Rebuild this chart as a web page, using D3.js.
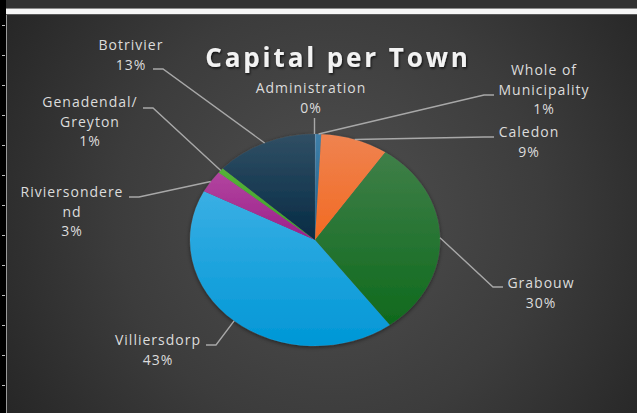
<!DOCTYPE html>
<html>
<head>
<meta charset="utf-8">
<script src="https://cdn.jsdelivr.net/npm/d3@7/dist/d3.min.js"></script>
<style>
  html, body { margin: 0; padding: 0; background: #000; }
  svg { display: block; }
</style>
</head>
<body>
<svg id="chart" width="637" height="413"></svg>
<script>
// Capital expenditure share per town
const towns = ["Administration", "Whole of Municipality", "Caledon", "Grabouw",
               "Villiersdorp", "Riviersonderend", "Genadendal/Greyton", "Botrivier"];
const shares = [0.1, 0.7, 8.7, 30.3, 42.8, 3.4, 0.8, 13.2];
const title = "Capital per Town";

// Slice fills: top and bottom gradient stops
const fillTop    = ["#6f9fc4", "#3f7fa8", "#ef8350", "#3f7f48", "#3aafe4", "#b2459f", "#55b238", "#304f64"];
const fillBottom = ["#4f86b0", "#1f5f88", "#f26a22", "#0f6a1d", "#0097d6", "#9c1f8b", "#3fa02a", "#062b45"];

// Label placement: wrapped name lines, centre x, first baseline, leader end
const labelLayout = {
  "Administration":        { lines: ["Administration"],          x: 311, y: 93,  end: [314.5, 118], side: "up" },
  "Whole of Municipality": { lines: ["Whole of", "Municipality"], x: 544, y: 75,  end: [494, 95],    side: "right" },
  "Caledon":               { lines: ["Caledon"],                 x: 529, y: 137, end: [494, 137],   side: "right" },
  "Grabouw":               { lines: ["Grabouw"],                 x: 541, y: 288, end: [503, 287],   side: "right" },
  "Villiersdorp":          { lines: ["Villiersdorp"],            x: 158, y: 345, end: [206, 345],   side: "left" },
  "Riviersonderend":       { lines: ["Riviersondere", "nd"],     x: 72,  y: 197, end: [129, 197],   side: "left" },
  "Genadendal/Greyton":    { lines: ["Genadendal/", "Greyton"],  x: 90,  y: 107, end: [143, 108],   side: "left" },
  "Botrivier":             { lines: ["Botrivier"],               x: 131, y: 50,  end: [153, 69],    side: "left" }
};

const W = 637, H = 413;
const svg = d3.select("#chart");
const defs = svg.append("defs");

// ---- frame around the chart area ----
svg.append("rect").attr("x", 0).attr("y", 0).attr("width", W).attr("height", H).attr("fill", "#000");
svg.append("rect").attr("x", 6).attr("y", 0).attr("width", W - 6).attr("height", 8).attr("fill", "#323232");
svg.append("line").attr("x1", 6).attr("x2", W).attr("y1", 8.5).attr("y2", 8.5).attr("stroke", "#8a8a8a");
svg.append("rect").attr("x", 6).attr("y", 9).attr("width", W - 6).attr("height", 5).attr("fill", "#f6f6f6");

const bg = defs.append("radialGradient").attr("id", "bg")
  .attr("gradientUnits", "userSpaceOnUse")
  .attr("cx", 330).attr("cy", 215).attr("r", 390);
bg.append("stop").attr("offset", "0").attr("stop-color", "#505050");
bg.append("stop").attr("offset", "0.55").attr("stop-color", "#3c3c3c");
bg.append("stop").attr("offset", "1").attr("stop-color", "#252525");

svg.append("rect").attr("x", 6).attr("y", 14).attr("width", W - 6).attr("height", H - 14).attr("fill", "url(#bg)");
svg.append("line").attr("x1", 6.5).attr("x2", 6.5).attr("y1", 14).attr("y2", H).attr("stroke", "#9a9a9a");
svg.append("line").attr("x1", 6).attr("x2", W).attr("y1", 14.5).attr("y2", 14.5).attr("stroke", "#5a5a5a");

// row markers on the left margin
d3.range(25, H, 30).forEach(y => {
  svg.append("line").attr("x1", 2).attr("x2", 5).attr("y1", y + 0.5).attr("y2", y + 0.5)
    .attr("stroke", "#bdbdbd").attr("stroke-width", 1);
});

// ---- title ----
const shadow = defs.append("filter").attr("id", "tshadow")
  .attr("x", "-10%").attr("y", "-30%").attr("width", "120%").attr("height", "160%");
shadow.append("feDropShadow").attr("dx", 1).attr("dy", 1.5).attr("stdDeviation", 1.2)
  .attr("flood-color", "#000").attr("flood-opacity", 0.7);

svg.append("text")
  .attr("x", 338).attr("y", 67)
  .attr("text-anchor", "middle")
  .attr("font-family", "'Open Sans', sans-serif")
  .attr("font-weight", 700)
  .attr("font-size", 26)
  .attr("letter-spacing", 2.9)
  .attr("fill", "#f2f2f2")
  .attr("filter", "url(#tshadow)")
  .text(title);

// ---- pie ----
const cx = 315, cy = 240, rx = 125, ry = 106;
const data = towns.map((t, i) => ({ town: t, value: shares[i], i }));
const total = d3.sum(shares);

const pie = d3.pie().sort(null).value(d => d.value).startAngle(0).endAngle(2 * Math.PI);
const arcs = pie(data);
const arc = d3.arc().innerRadius(0).outerRadius(ry);

arcs.forEach(a => {
  const g = defs.append("linearGradient").attr("id", "g" + a.data.i)
    .attr("x1", 0).attr("y1", 0).attr("x2", 0).attr("y2", 1);
  g.append("stop").attr("offset", "0").attr("stop-color", fillTop[a.data.i]);
  g.append("stop").attr("offset", "1").attr("stop-color", fillBottom[a.data.i]);
});

const pshadow = defs.append("filter").attr("id", "pshadow")
  .attr("x", "-10%").attr("y", "-10%").attr("width", "120%").attr("height", "120%");
pshadow.append("feDropShadow").attr("dx", 0).attr("dy", 1).attr("stdDeviation", 2)
  .attr("flood-color", "#000").attr("flood-opacity", 0.55);

const pieG = svg.append("g")
  .attr("transform", `translate(${cx},${cy}) scale(${rx / ry},1)`)
  .attr("filter", "url(#pshadow)");

pieG.selectAll("path").data(arcs).join("path")
  .attr("d", arc)
  .attr("fill", d => `url(#g${d.data.i})`)
  .attr("stroke", "rgba(255,255,255,0.08)")
  .attr("stroke-width", 0.5);

// ---- leader lines and labels ----
const fmt = v => Math.round(v / total * 100) + "%";
const edgePoint = a => {
  const m = (a.startAngle + a.endAngle) / 2;
  return [cx + rx * Math.sin(m), cy - ry * Math.cos(m)];
};

const lineGen = d3.line();
arcs.forEach(a => {
  const L = labelLayout[a.data.town];
  const p0 = edgePoint(a);
  let pts;
  if (L.side === "up") {
    pts = [[L.end[0], p0[1]], L.end];
  } else {
    const dir = L.side === "left" ? 1 : -1;
    const elbow = [L.end[0] + dir * 10, L.end[1]];
    pts = [p0, elbow, L.end];
  }
  svg.append("path").attr("d", lineGen(pts))
    .attr("fill", "none").attr("stroke", "#a8a8a8").attr("stroke-width", 1.4);

  const t = svg.append("text")
    .attr("text-anchor", "middle")
    .attr("font-family", "'Open Sans', sans-serif")
    .attr("font-size", 14)
    .attr("letter-spacing", 1.0)
    .attr("fill", "#dcdcdc");
  const lines = L.lines.concat([fmt(a.data.value)]);
  lines.forEach((s, k) => {
    t.append("tspan").attr("x", L.x).attr("y", L.y + k * 19.5).text(s);
  });
});
</script>
</body>
</html>
